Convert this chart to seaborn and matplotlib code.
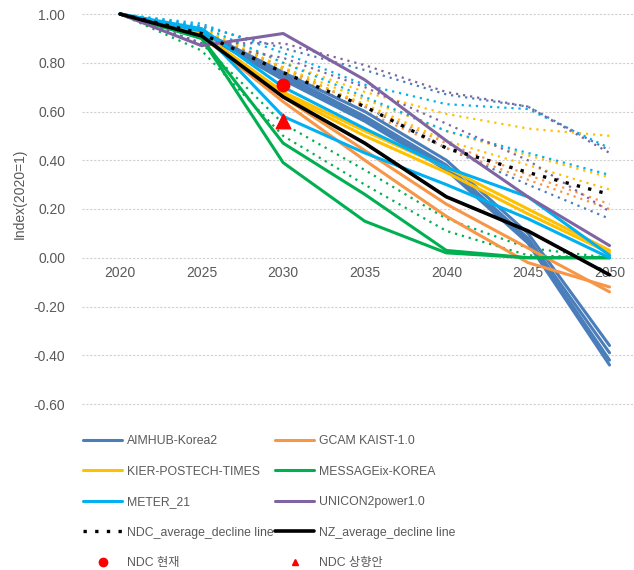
import matplotlib
matplotlib.use("Agg")
import matplotlib.pyplot as plt
from matplotlib.lines import Line2D
from matplotlib.ticker import FormatStrFormatter
import seaborn as sns
import pandas as pd

years = [2020, 2025, 2030, 2035, 2040, 2045, 2050]

# solid = NZ scenarios, dotted = NDC scenarios
aimhub_nz = [[1.0, 0.93, 0.76, 0.60, 0.40, 0.10, -0.36],
             [1.0, 0.93, 0.75, 0.58, 0.38, 0.08, -0.39],
             [1.0, 0.92, 0.74, 0.57, 0.37, 0.07, -0.42],
             [1.0, 0.92, 0.73, 0.56, 0.36, 0.06, -0.44]]
aimhub_ndc = [[1.0, 0.95, 0.86, 0.77, 0.67, 0.62, 0.44],
              [1.0, 0.93, 0.78, 0.62, 0.45, 0.30, 0.16]]
gcam_nz = [[1.0, 0.91, 0.64, 0.40, 0.17, -0.02, -0.12],
           [1.0, 0.91, 0.66, 0.44, 0.22, 0.04, -0.14]]
gcam_ndc = [[1.0, 0.93, 0.77, 0.60, 0.45, 0.32, 0.20],
            [1.0, 0.93, 0.78, 0.62, 0.47, 0.34, 0.22]]
kier_nz = [[1.0, 0.92, 0.67, 0.50, 0.35, 0.18, 0.02],
           [1.0, 0.92, 0.68, 0.52, 0.37, 0.20, 0.03]]
kier_ndc = [[1.0, 0.94, 0.80, 0.68, 0.59, 0.53, 0.50],
            [1.0, 0.94, 0.78, 0.65, 0.52, 0.42, 0.33],
            [1.0, 0.93, 0.77, 0.63, 0.48, 0.38, 0.28]]
message_nz = [[1.0, 0.90, 0.47, 0.26, 0.03, 0.0, 0.0],
              [1.0, 0.90, 0.39, 0.15, 0.02, 0.0, 0.0]]
message_ndc = [[1.0, 0.88, 0.55, 0.36, 0.16, 0.04, 0.0],
               [1.0, 0.85, 0.50, 0.30, 0.11, 0.01, 0.0]]
meter_nz = [[1.0, 0.93, 0.58, 0.43, 0.30, 0.16, 0.0],
            [1.0, 0.94, 0.70, 0.53, 0.37, 0.25, 0.01]]
meter_ndc = [[1.0, 0.96, 0.84, 0.71, 0.63, 0.61, 0.45],
             [1.0, 0.95, 0.80, 0.66, 0.52, 0.43, 0.34]]
unicon_nz = [[1.0, 0.87, 0.92, 0.73, 0.48, 0.25, 0.05]]
unicon_ndc = [[1.0, 0.88, 0.88, 0.79, 0.68, 0.62, 0.43],
              [1.0, 0.88, 0.82, 0.70, 0.55, 0.40, 0.19]]
nz_avg = [1.0, 0.91, 0.66, 0.47, 0.25, 0.11, -0.07]
ndc_avg = [1.0, 0.92, 0.76, 0.62, 0.45, 0.35, 0.26]
ndc_now = 0.71
ndc_up = 0.56

models = ["AIMHUB-Korea2", "GCAM KAIST-1.0", "KIER-POSTECH-TIMES",
          "MESSAGEix-KOREA", "METER_21", "UNICON2power1.0"]
colors = ["#4A7EBB", "#F79646", "#FFC000", "#00B050", "#00B0F0", "#8064A2"]
nz_sets = [aimhub_nz, gcam_nz, kier_nz, message_nz, meter_nz, unicon_nz]
ndc_sets = [aimhub_ndc, gcam_ndc, kier_ndc, message_ndc, meter_ndc, unicon_ndc]

sns.set_style("white")
plt.rcParams['font.family'] = ['Liberation Sans', 'Noto Sans CJK KR', 'DejaVu Sans']

fig = plt.figure(figsize=(6.34, 5.70), dpi=100)
ax = fig.add_axes([82/634, 166/570, 552/634, 390/570])

for y in [-0.6, -0.4, -0.2, 0.0, 0.2, 0.4, 0.6, 0.8, 1.0]:
    ax.axhline(y, color="#D0D0D0", lw=0.8, ls=(0, (2, 1.5)), zorder=0, clip_on=False)

# dotted NDC lines first
for name, col, sets in zip(models, colors, ndc_sets):
    for vals in sets:
        d = pd.DataFrame({"year": years, "value": vals})
        sns.lineplot(data=d, x="year", y="value", ax=ax, color=col, lw=1.6,
                     linestyle=(0, (1, 2.2)), clip_on=False)
for name, col, sets in zip(models, colors, nz_sets):
    for vals in sets:
        d = pd.DataFrame({"year": years, "value": vals})
        sns.lineplot(data=d, x="year", y="value", ax=ax, color=col, lw=2.2,
                     clip_on=False)

sns.lineplot(x=years, y=ndc_avg, ax=ax, color="black", lw=2.4,
             linestyle=(0, (1, 2.5)), clip_on=False)
sns.lineplot(x=years, y=nz_avg, ax=ax, color="black", lw=2.6, clip_on=False)
ax.scatter([2030], [ndc_now], s=80, color="#FF0000", marker="o", zorder=10)
ax.scatter([2030], [ndc_up], s=110, color="#FF0000", marker="^", zorder=10)

ax.set_xlim(2017.67, 2051.5)
ax.set_ylim(-0.6, 1.0)
ax.set_xticks(years)
ax.set_yticks([-0.6, -0.4, -0.2, 0.0, 0.2, 0.4, 0.6, 0.8, 1.0])
ax.yaxis.set_major_formatter(FormatStrFormatter('%.2f'))
for s in ax.spines.values():
    s.set_visible(False)
ax.spines['bottom'].set_position(('data', 0))
ax.tick_params(axis='both', length=0, labelsize=10, colors="#595959")
ax.tick_params(axis='y', pad=12)
ax.tick_params(axis='x', pad=6)
ax.set_xlabel("")
ax.set_ylabel("Index(2020=1)", fontsize=10, color="#595959")
ax.yaxis.set_label_coords(-0.10, 0.54)

def h_line(col, ls="-", lw=2.2):
    return Line2D([], [], color=col, lw=lw, linestyle=ls)

left_h = [h_line(colors[0]), h_line(colors[2]), h_line(colors[4]),
          h_line("black", (0, (1, 2.5)), 2.4),
          Line2D([], [], color="#FF0000", marker="o", ls="", markersize=6)]
left_l = [models[0], models[2], models[4], "NDC_average_decline line", "NDC 현재"]
right_h = [h_line(colors[1]), h_line(colors[3]), h_line(colors[5]),
           h_line("black", "-", 2.6),
           Line2D([], [], color="#FF0000", marker="^", ls="", markersize=5)]
right_l = [models[1], models[3], models[5], "NZ_average_decline line", "NDC 상향안"]

for hs, ls, x0 in [(left_h, left_l, 83/634), (right_h, right_l, 275/634)]:
    fig.legend(hs, ls, loc="upper left", bbox_to_anchor=(x0, 1 - 435/570),
               frameon=False, ncol=1, fontsize=8.8, handlelength=3.2,
               handletextpad=0.4, labelspacing=1.52, labelcolor="#595959",
               borderaxespad=0, borderpad=0)

fig.savefig("out.png", dpi=100)
